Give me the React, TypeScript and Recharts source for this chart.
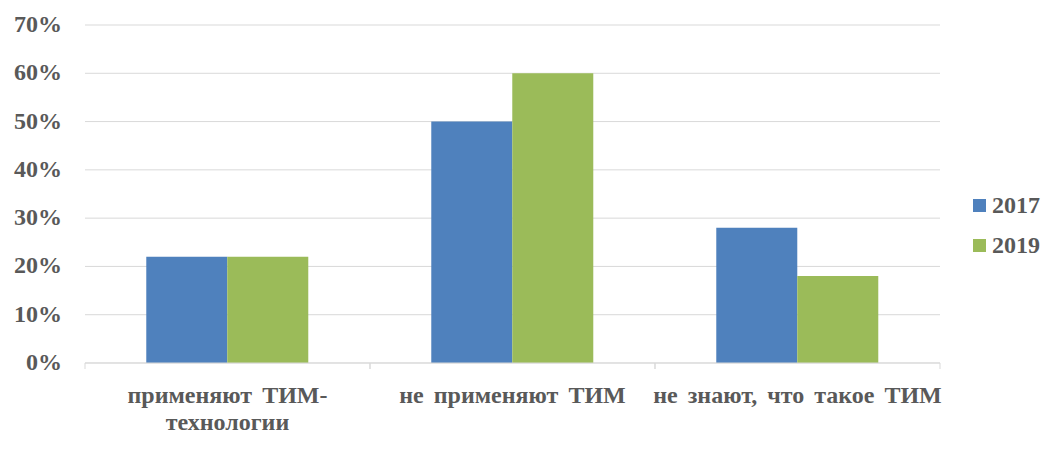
import { BarChart, Bar, XAxis, YAxis, CartesianGrid, Legend } from "recharts";

const categories = ["применяют ТИМ-|технологии", "не применяют ТИМ", "не знают, что такое ТИМ"];
const values2017 = [22, 50, 28];
const values2019 = [22, 60, 18];
const yTicks = [0, 10, 20, 30, 40, 50, 60, 70];

const data = categories.map((name, i) => ({
  name,
  y2017: values2017[i],
  y2019: values2019[i],
}));

const FONT = "Liberation Serif";
const TEXT = "#595959";
const GRID = "#D9D9D9";

function CategoryTick(props: any) {
  const { x, y, payload } = props;
  const half = payload && payload.offset ? payload.offset : 142.5;
  const lines = String(payload.value).split("|");
  return (
    <g>
      <line x1={x - half} y1={y - 8} x2={x - half} y2={y - 2} stroke={GRID} />
      <line x1={x + half} y1={y - 8} x2={x + half} y2={y - 2} stroke={GRID} />
      <text
        x={x}
        y={y + 32}
        textAnchor="middle"
        fill={TEXT}
        style={{ fontFamily: FONT, fontWeight: 700, fontSize: 24, wordSpacing: 4 }}
      >
        {lines.map((l, i) => (
          <tspan key={i} x={x} dy={i === 0 ? 0 : 27}>
            {l}
          </tspan>
        ))}
      </text>
    </g>
  );
}

function LegendBox() {
  const items = [
    { label: "2017", color: "#4F81BD" },
    { label: "2019", color: "#9BBB59" },
  ];
  return (
    <div style={{ width: 100, paddingLeft: 33, boxSizing: "border-box" }}>
      {items.map((it) => (
        <div
          key={it.label}
          style={{ display: "flex", alignItems: "center", height: 40 }}
        >
          <span
            style={{
              display: "inline-block",
              width: 13,
              height: 13,
              background: it.color,
              marginRight: 6,
            }}
          />
          <span
            style={{
              fontFamily: FONT,
              fontWeight: 700,
              fontSize: 24,
              color: TEXT,
            }}
          >
            {it.label}
          </span>
        </div>
      ))}
    </div>
  );
}

function YTick(props: any) {
  const { x, y, payload } = props;
  return (
    <text
      x={x}
      y={y}
      dy={7}
      textAnchor="end"
      fill={TEXT}
      style={{ fontFamily: FONT, fontWeight: 700, fontSize: 24 }}
    >
      {`${payload.value}%`}
    </text>
  );
}

export default function App() {
  return (
    <div style={{ position: "absolute", left: 0, top: 0, background: "#fff" }}>
      <BarChart
        width={1062}
        height={450}
        data={data}
        margin={{ top: 25, right: 22, left: 0, bottom: 0 }}
        barCategoryGap="21.5%"
        barGap={0}
      >
        <CartesianGrid vertical={false} stroke={GRID} />
        <XAxis
          dataKey="name"
          height={87}
          tickLine={false}
          axisLine={{ stroke: GRID }}
          tick={<CategoryTick />}
          interval={0}
        />
        <YAxis
          width={85}
          domain={[0, 70]}
          ticks={yTicks}
          axisLine={false}
          tickLine={false}
          tickMargin={17}
          tick={<YTick />}
        />
        <Legend
          layout="vertical"
          align="right"
          verticalAlign="middle"
          width={100}
          content={<LegendBox />}
        />
        <Bar dataKey="y2017" name="2017" fill="#4F81BD" isAnimationActive={false} />
        <Bar dataKey="y2019" name="2019" fill="#9BBB59" isAnimationActive={false} />
      </BarChart>
    </div>
  );
}
